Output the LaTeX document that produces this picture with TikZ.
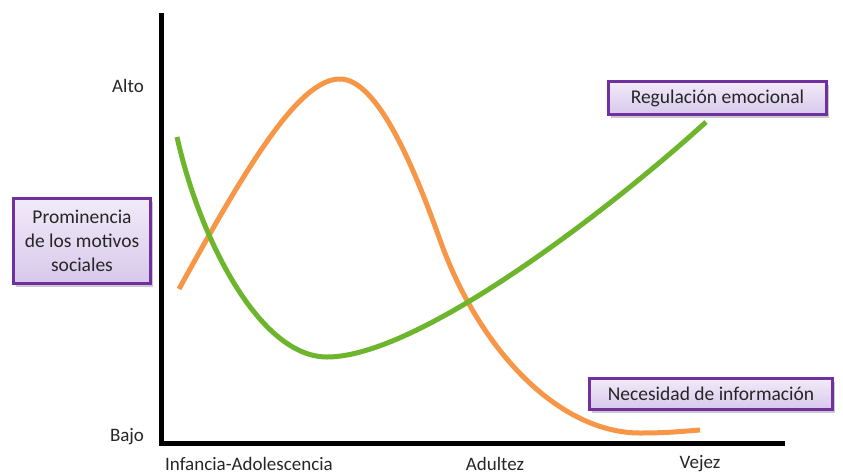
\documentclass[tikz,border=0pt]{standalone}
\usepackage{fontspec}
\setmainfont{Carlito}
\usetikzlibrary{shadows}
\definecolor{boxborder}{HTML}{7030A0}
\definecolor{boxtop}{HTML}{F1EBF8}
\definecolor{boxbottom}{HTML}{D8C8EC}
\definecolor{curveorange}{HTML}{F79646}
\definecolor{curvegreen}{HTML}{6DB52D}
\definecolor{labeltext}{HTML}{262626}
\tikzset{
  labelbox/.style={draw=boxborder, line width=3.2pt, top color=boxtop, bottom color=boxbottom,
    drop shadow={shadow xshift=2pt, shadow yshift=-3pt, opacity=0.35, fill=black!60},
    text=labeltext, align=center, inner sep=0pt,
    font=\fontsize{19.5}{24}\selectfont},
  axislabel/.style={text=labeltext, font=\fontsize{19}{22}\selectfont, inner sep=0pt},
  axisline/.style={line width=5pt, black},
  curve/.style={line width=5pt, line cap=butt}
}
\begin{document}
\begin{tikzpicture}[x=1pt, y=-1pt]
\useasboundingbox (0,0) rectangle (843,475);

% axes
\coordinate (ytop) at (161,13);
\coordinate (origin) at (161,443);
\coordinate (xend) at (785,443);
\draw[axisline, line join=miter] (ytop) -- (origin) -- (xend);

% axis labels
\node[axislabel] (alto) at (128,86) {Alto};
\node[axislabel] (bajo) at (127,437) {Bajo};
\node[axislabel] (infancia) at (249,464) {Infancia-Adolescencia};
\node[axislabel] (adultez) at (495,464) {Adultez};
\node[axislabel] (vejez) at (700,464) {Vejez};

% need for information
\coordinate (o0) at (179,289);
\coordinate (opeak) at (340,79);
\coordinate (oinfl) at (440,240);
\coordinate (olow) at (640,433);
\coordinate (oend) at (700,430);
\draw[curve, curveorange]
  (o0) .. controls (250,160) and (300,79) .. (opeak)
       .. controls (378,79) and (415,170) .. (oinfl)
       .. controls (480,352) and (560,433) .. (olow)
       .. controls (670,433) and (685,431) .. (oend);

% emotional regulation
\coordinate (g0) at (177,137);
\coordinate (gmin) at (327,357);
\coordinate (gend) at (706,122);
\draw[curve, curvegreen]
  (g0) .. controls (200,240) and (260,357) .. (gmin)
       .. controls (420,357) and (615,205) .. (gend);

% boxes
\node[labelbox, minimum width=137pt, minimum height=85pt] (prominencia) at (82,241)
  {Prominencia\\de los motivos\\sociales};
\node[labelbox, minimum width=218pt, minimum height=33pt] (regulacion) at (717.5,98)
  {Regulación emocional};
\node[labelbox, minimum width=243pt, minimum height=31pt] (necesidad) at (711,394)
  {Necesidad de información};
\end{tikzpicture}
\end{document}
